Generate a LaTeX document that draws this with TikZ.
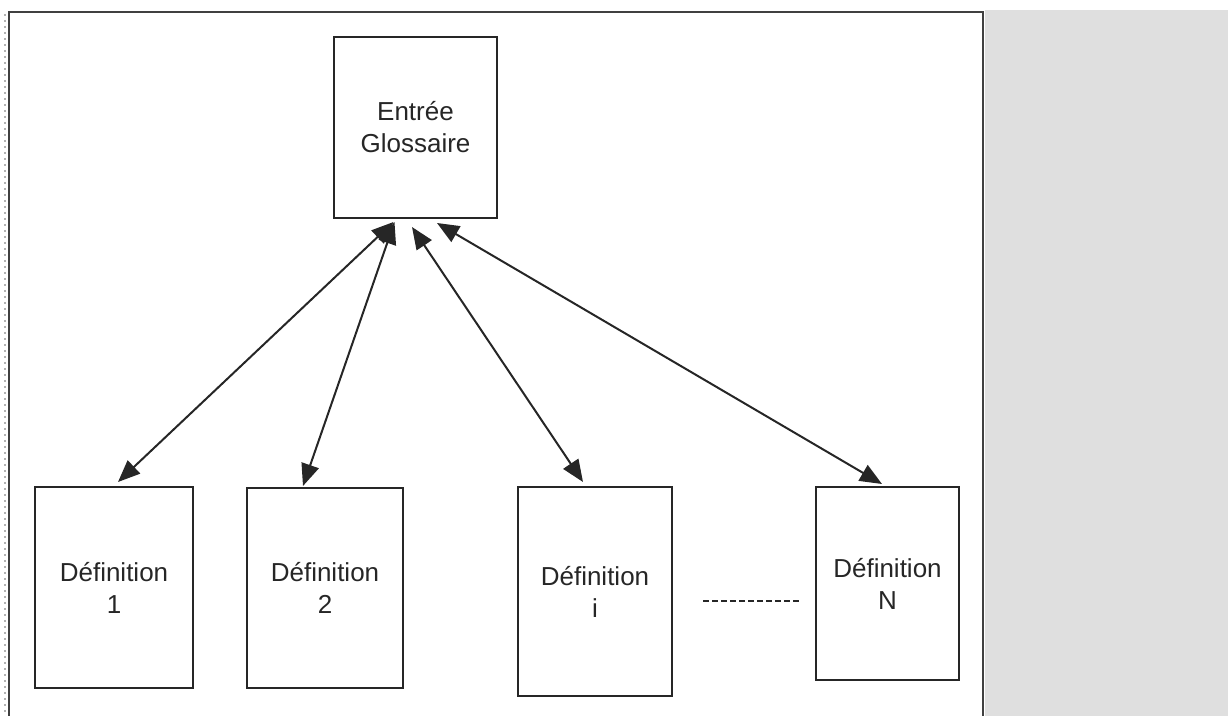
\documentclass[tikz,border=0pt]{standalone}
\usepackage{fontspec}
\setmainfont{Liberation Sans}
\usetikzlibrary{arrows.meta}
\begin{document}
\begin{tikzpicture}[x=0.5pt,y=-0.5pt,
  box/.style={draw=black!85,line width=1pt,inner sep=0pt,align=center,
    text=black!85,font=\fontsize{13}{16}\selectfont},
  link/.style={line width=1pt,draw=black!85,
    {Triangle[length=11pt,width=9pt]}-{Triangle[length=11pt,width=9pt]}},
  frameline/.style={line width=1.2pt,draw=black!75}]
\useasboundingbox (0,0) rectangle (1228,716);
\fill[gray!25] (985,10) rectangle (1228,716);
\draw[gray!60,dotted,line width=1pt] (5,14) -- (5,716);
\draw[frameline] (9,716) -- (9,12) -- (983,12) -- (983,716);
\node[box,minimum width=81.5pt,minimum height=90.5pt] (top) at (415.5,127.5) {Entrée\\Glossaire};
\node[box,minimum width=79pt,minimum height=100.5pt] (d1) at (114,587.5) {Définition\\1};
\node[box,minimum width=78pt,minimum height=100pt] (d2) at (325,588) {Définition\\2};
\node[box,minimum width=77pt,minimum height=104.5pt] (di) at (595,591.5) {Définition\\i};
\node[box,minimum width=71.5pt,minimum height=96.5pt] (dn) at (887.5,583.5) {Définition\\N};
\draw[link] ([shift={(-22,3)}]top.south) -- ([shift={(4,-4)}]d1.north);
\draw[link] ([shift={(-21,3)}]top.south) -- ([shift={(-22,-1)}]d2.north);
\draw[link] ([shift={(-3.5,8)}]top.south) -- ([shift={(-12,-4)}]di.north);
\draw[link] ([shift={(21.5,4)}]top.south) -- ([shift={(-5.5,-2)}]dn.north);
\draw[line width=1pt,draw=black!85,dash pattern=on 3pt off 1.5pt] (703,601) -- (800,601);
\end{tikzpicture}
\end{document}
